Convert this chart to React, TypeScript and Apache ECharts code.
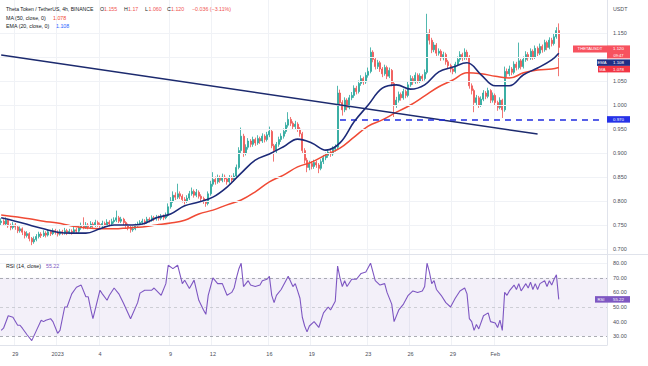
import React, { useEffect, useRef } from "react";
import * as echarts from "echarts";

// ---- data (4h candles, Dec 28 00:00 .. Feb 5 12:00) ----
const FIRST_OPEN = 0.755;
const closes = [
  0.758,0.752,0.760,0.748,0.745,0.750,
  0.746,0.738,0.742,0.735,0.728,0.732,
  0.722,0.715,0.720,0.726,0.731,0.728,
  0.733,0.729,0.736,0.732,0.738,0.735,
  0.731,0.736,0.733,0.738,0.734,0.737,
  0.735,0.740,0.737,0.744,0.748,0.745,
  0.750,0.746,0.752,0.749,0.755,0.751,
  0.748,0.753,0.750,0.756,0.752,0.757,
  0.760,0.765,0.758,0.762,0.755,0.750,
  0.745,0.740,0.742,0.748,0.752,0.755,
  0.758,0.756,0.762,0.760,0.765,0.763,
  0.766,0.764,0.768,0.765,0.770,0.788,
  0.800,0.812,0.808,0.815,0.810,0.803,
  0.800,0.806,0.815,0.820,0.812,0.818,
  0.810,0.805,0.800,0.795,0.815,0.835,
  0.845,0.840,0.848,0.843,0.850,0.846,
  0.840,0.848,0.844,0.852,0.870,0.905,
  0.935,0.900,0.912,0.925,0.918,0.928,
  0.921,0.930,0.925,0.935,0.928,0.938,
  0.945,0.915,0.905,0.918,0.928,0.935,
  0.945,0.958,0.970,0.962,0.955,0.960,
  0.950,0.940,0.905,0.885,0.870,0.878,
  0.872,0.880,0.875,0.868,0.882,0.890,
  0.895,0.902,0.898,0.908,0.912,1.025,
  1.005,0.990,1.010,0.995,1.015,1.020,
  1.035,1.028,1.045,1.055,1.048,1.062,
  1.070,1.110,1.095,1.080,1.088,1.075,
  1.065,1.078,1.060,1.072,1.045,1.000,
  1.010,1.022,1.015,1.028,1.020,1.042,
  1.055,1.048,1.062,1.050,1.060,1.055,
  1.068,1.150,1.135,1.115,1.125,1.108,
  1.112,1.098,1.105,1.090,1.082,1.075,
  1.070,1.085,1.095,1.105,1.098,1.110,
  1.100,1.040,1.030,1.005,1.015,1.000,
  1.012,1.025,1.018,1.030,1.010,1.020,
  1.005,0.995,1.010,0.990,1.070,1.065,
  1.075,1.068,1.085,1.078,1.092,1.080,
  1.095,1.105,1.098,1.112,1.100,1.118,
  1.108,1.122,1.115,1.130,1.120,1.135,
  1.128,1.142,1.155,1.120,
];
const highs = [
  0.764,0.762,0.766,0.763,0.753,0.756,
  0.754,0.749,0.747,0.745,0.738,0.737,
  0.735,0.725,0.726,0.731,0.736,0.735,
  0.739,0.737,0.741,0.740,0.743,0.742,
  0.739,0.741,0.740,0.744,0.742,0.742,
  0.741,0.746,0.744,0.750,0.755,0.766,
  0.756,0.754,0.758,0.756,0.761,0.759,
  0.755,0.759,0.757,0.762,0.760,0.763,
  0.766,0.780,0.769,0.767,0.765,0.758,
  0.753,0.749,0.747,0.753,0.757,0.760,
  0.763,0.762,0.767,0.766,0.770,0.769,
  0.771,0.770,0.773,0.772,0.776,0.795,
  0.808,0.820,0.818,0.836,0.820,0.814,
  0.808,0.812,0.821,0.828,0.824,0.825,
  0.822,0.814,0.809,0.804,0.820,0.842,
  0.860,0.851,0.855,0.853,0.857,0.855,
  0.850,0.854,0.853,0.858,0.876,0.912,
  0.953,0.940,0.918,0.931,0.929,0.934,
  0.932,0.937,0.934,0.941,0.939,0.944,
  0.955,0.948,0.919,0.923,0.934,0.941,
  0.951,0.964,0.985,0.975,0.966,0.967,
  0.964,0.954,0.944,0.910,0.890,0.884,
  0.883,0.886,0.884,0.879,0.887,0.896,
  0.901,0.908,0.906,0.914,0.918,1.040,
  1.032,1.010,1.016,1.014,1.021,1.027,
  1.041,1.040,1.051,1.062,1.059,1.068,
  1.078,1.120,1.114,1.099,1.094,1.092,
  1.079,1.084,1.082,1.078,1.075,1.049,
  1.017,1.028,1.026,1.034,1.032,1.048,
  1.062,1.060,1.068,1.066,1.066,1.064,
  1.074,1.190,1.158,1.140,1.131,1.129,
  1.118,1.116,1.111,1.109,1.094,1.086,
  1.079,1.090,1.101,1.112,1.109,1.118,
  1.115,1.104,1.045,1.034,1.021,1.019,
  1.018,1.031,1.029,1.036,1.033,1.026,
  1.024,1.009,1.016,1.013,1.080,1.076,
  1.082,1.079,1.091,1.090,1.130,1.096,
  1.101,1.112,1.110,1.118,1.116,1.124,
  1.122,1.128,1.126,1.136,1.134,1.141,
  1.140,1.148,1.162,1.170,
];
const lows = [
  0.750,0.748,0.749,0.744,0.739,0.741,
  0.740,0.733,0.734,0.729,0.722,0.724,
  0.716,0.708,0.711,0.716,0.722,0.723,
  0.725,0.724,0.726,0.727,0.729,0.730,
  0.726,0.728,0.729,0.730,0.729,0.731,
  0.730,0.732,0.733,0.734,0.740,0.741,
  0.742,0.741,0.743,0.744,0.746,0.746,
  0.743,0.745,0.745,0.747,0.747,0.749,
  0.753,0.756,0.754,0.754,0.750,0.744,
  0.739,0.734,0.736,0.739,0.745,0.749,
  0.751,0.751,0.753,0.755,0.757,0.758,
  0.759,0.759,0.760,0.760,0.762,0.767,
  0.784,0.796,0.802,0.804,0.804,0.797,
  0.793,0.796,0.802,0.811,0.807,0.808,
  0.805,0.799,0.794,0.788,0.791,0.811,
  0.830,0.834,0.836,0.838,0.839,0.840,
  0.834,0.836,0.839,0.840,0.848,0.866,
  0.900,0.892,0.895,0.907,0.912,0.913,
  0.915,0.917,0.919,0.921,0.922,0.924,
  0.933,0.910,0.882,0.900,0.913,0.923,
  0.930,0.940,0.953,0.956,0.949,0.950,
  0.944,0.934,0.898,0.878,0.860,0.864,
  0.866,0.867,0.869,0.858,0.864,0.877,
  0.885,0.890,0.892,0.894,0.903,0.908,
  0.998,0.978,0.985,0.989,0.991,1.010,
  1.015,1.022,1.024,1.040,1.042,1.044,
  1.057,1.066,1.089,1.074,1.075,1.069,
  1.058,1.061,1.054,1.056,1.039,0.975,
  0.994,1.005,1.009,1.011,1.014,1.016,
  1.038,1.042,1.044,1.045,1.046,1.049,
  1.051,1.064,1.126,1.108,1.110,1.102,
  1.103,1.092,1.093,1.084,1.076,1.068,
  1.064,1.066,1.081,1.090,1.092,1.094,
  1.094,1.034,1.022,0.985,1.000,0.994,
  0.996,1.008,1.012,1.014,1.004,1.005,
  0.999,0.988,0.991,0.973,0.986,1.058,
  1.060,1.062,1.064,1.072,1.074,1.074,
  1.076,1.090,1.092,1.094,1.094,1.096,
  1.102,1.104,1.109,1.111,1.114,1.116,
  1.122,1.124,1.138,1.060,
];

// indicator lines, read once per day (candle index -> value)
const lineIdx = [0,6,12,18,24,30,36,42,48,54,60,66,72,78,84,90,96,102,108,114,120,126,132,138,144,150,156,162,168,174,180,186,192,198,204,210,216,222,228,234,237];
const ema20 = [0.765,0.758,0.750,0.742,0.735,0.733,0.733,0.742,0.750,0.750,0.752,0.765,0.773,0.790,0.798,0.808,0.829,0.858,0.885,0.898,0.913,0.929,0.921,0.906,0.921,0.965,1.000,1.035,1.042,1.033,1.042,1.069,1.079,1.088,1.063,1.040,1.040,1.063,1.077,1.094,1.108];
const ma50 = [0.771,0.767,0.763,0.758,0.754,0.748,0.744,0.742,0.742,0.744,0.746,0.750,0.754,0.760,0.773,0.781,0.792,0.802,0.819,0.840,0.854,0.871,0.881,0.896,0.910,0.933,0.956,0.969,0.985,1.000,1.019,1.038,1.052,1.067,1.065,1.060,1.056,1.067,1.073,1.075,1.078];

const rsiIdx = [0,1,3,5,7,8,9,11,13,15,17,18,19,21,22,24,25,27,28,30,32,34,36,37,38,39,42,43,45,46,48,50,52,55,58,59,61,64,65,68,70,71,73,75,77,78,80,82,84,86,87,88,89,90,92,94,96,98,99,100,101,102,103,105,106,108,110,111,113,114,115,116,117,119,121,122,124,125,126,127,128,129,130,131,133,135,137,139,140,142,143,144,145,146,147,149,151,153,155,157,158,159,161,163,164,166,167,169,171,173,175,177,179,180,181,182,183,184,185,187,189,191,193,195,197,198,199,200,201,202,203,205,207,208,210,211,212,213,214,215,216,218,219,220,221,223,224,225,226,227,228,229,231,232,233,234,235,236,237];
const rsiVals = [34,35.5,44,43,37.5,37.5,35.5,31,27,34,41,40,41,42,40,32,34,50,50,59,63.5,65,57,57,49,42,61.5,59,54.6,58,63,59,52.6,42,53,59.5,61.5,61.5,63,58,66,78.6,76.3,78.6,66,68.3,62.6,68.4,54.6,48,45,58,64,70,66,66,58,60,63,70,76,80,64,68,65,64,65,68,69,71,58,53,58,62,68,71,64,66,61,56,43,37,33,37,40,36,46,50,48,54,78,70,64,68,64,69,69,73,74,80,74,68,65,66,60,52,40,48,52,58,61,60,61,64,80,74,66,68,62,58,53,50,56,61,63,59,42,40,34,38,35,44,46,40,39,36,41,34,60,58,61,65,62,66,61,66,63,67,62,66,62,66,68,64,68,65,69,72,55.22];

const priceGridTicks = [0.7,0.75,0.8,0.85,0.9,0.95,1.0,1.05,1.1,1.15];
// 1.100 sits under the price tags in the reference, so it has no visible label
const priceLabelTicks = [0.7,0.75,0.8,0.85,0.9,0.95,1.0,1.05,1.15];
const rsiTicks = [30,40,50,60,70,80];
const dateIdx = [6,24,42,72,90,114,132,156,174,192,210];
const dateText = ["29","2023","4","9","12","16","19","23","26","29","Feb"];

const trendStart = [0, 1.104];
const trendEnd = [228, 0.9396];
const supportLevel = 0.97;
const supportFrom = 144;
const supportTo = 255;

const lastClose = 1.12;
const lastEma = 1.108;
const lastMa = 1.078;
const lastRsi = 55.22;

const FONT = "'Liberation Sans', Arial, sans-serif";
const SLOTS = 258;

export default function App() {
  const ref = useRef<HTMLDivElement>(null);
  useEffect(() => {
    document.body.style.margin = "0";
    const chart = echarts.init(ref.current!, null, { renderer: "svg" });
    const opens = closes.map((c, i) => (i === 0 ? FIRST_OPEN : closes[i - 1]));
    const candles = closes.map((c, i) => [opens[i], c, lows[i], highs[i]]);
    const cats = Array.from({ length: SLOTS }, (_, i) => String(i));
    const isDate = (i: number) => dateIdx.indexOf(i) >= 0;
    const vGrid = { show: true, interval: (i: number) => isDate(i), lineStyle: { color: "#f0f2f6", width: 1 } };

    chart.setOption({
      animation: false,
      textStyle: { fontFamily: FONT },
      grid: [
        { left: 0, right: 41, top: 0, height: 254 },
        { left: 0, right: 41, top: 255, height: 90 },
      ],
      xAxis: [
        { type: "category", gridIndex: 0, data: cats, boundaryGap: true, axisLine: { show: false }, axisTick: { show: false }, axisLabel: { show: false }, splitLine: vGrid },
        {
          type: "category", gridIndex: 1, data: cats, boundaryGap: true,
          axisLine: { show: true, lineStyle: { color: "#e0e3eb" } },
          axisTick: { show: false },
          splitLine: vGrid,
          axisLabel: {
            interval: (i: number) => isDate(i),
            formatter: (_v: string, i: number) => dateText[dateIdx.indexOf(i)] ?? "",
            fontSize: 5.5, color: "#4a4d57", margin: 6, fontFamily: FONT,
          },
        },
      ],
      yAxis: [
        {
          type: "value", gridIndex: 0, position: "right", min: 1.21875 - 254 / 480, max: 1.21875, scale: true,
          axisLine: { show: true, lineStyle: { color: "#e0e3eb" } }, axisTick: { show: false }, splitLine: { show: false },
          axisLabel: { customValues: priceLabelTicks, formatter: (v: number) => v.toFixed(3), fontSize: 5.5, color: "#4a4d57", margin: 6, fontFamily: FONT },
        },
        {
          type: "value", gridIndex: 1, position: "right", min: 24, max: 85.6,
          axisLine: { show: true, lineStyle: { color: "#e0e3eb" } }, axisTick: { show: false }, splitLine: { show: false },
          axisLabel: { customValues: rsiTicks, formatter: (v: number) => v.toFixed(2), fontSize: 5.5, color: "#4a4d57", margin: 6, fontFamily: FONT },
        },
      ],
      series: [
        {
          type: "line", xAxisIndex: 0, yAxisIndex: 0, data: [], silent: true, z: 0,
          markLine: { silent: true, symbol: "none", label: { show: false }, lineStyle: { color: "#f0f2f6", width: 1, type: "solid" }, data: priceGridTicks.map((v) => ({ yAxis: v })) },
        },
        {
          type: "candlestick", xAxisIndex: 0, yAxisIndex: 0, data: candles, barWidth: 1.5, z: 3,
          itemStyle: { color: "#26a69a", color0: "#ef5350", borderColor: "#26a69a", borderColor0: "#ef5350", borderWidth: 0.8 },
          markLine: {
            silent: true, symbol: "none", label: { show: false },
            data: [
              [{ coord: trendStart, lineStyle: { color: "#1c2a6e", width: 1.5, type: "solid" } }, { coord: trendEnd }],
              [{ coord: [supportFrom, supportLevel], lineStyle: { color: "#1f2be0", width: 1.5, type: [6, 5] } }, { coord: [supportTo, supportLevel] }],
            ],
          },
        },
        {
          type: "line", xAxisIndex: 0, yAxisIndex: 0, data: lineIdx.map((ix, k) => [ix, ma50[k]]), smooth: 0.4, showSymbol: false, silent: true, z: 4,
          lineStyle: { color: "#f04a35", width: 1.5 },
        },
        {
          type: "line", xAxisIndex: 0, yAxisIndex: 0, data: lineIdx.map((ix, k) => [ix, ema20[k]]), smooth: 0.4, showSymbol: false, silent: true, z: 5,
          lineStyle: { color: "#1c2a78", width: 1.6 },
        },
        {
          type: "line", xAxisIndex: 1, yAxisIndex: 1, data: rsiIdx.map((ix, k) => [ix, rsiVals[k]]), showSymbol: false, silent: true, z: 5,
          lineStyle: { color: "#7e57c2", width: 1.1 },
          markArea: { silent: true, itemStyle: { color: "rgba(126,87,194,0.09)" }, data: [[{ yAxis: 30 }, { yAxis: 70 }]] },
          markLine: {
            silent: true, symbol: "none", label: { show: false },
            data: [
              { yAxis: 80, lineStyle: { color: "#f0f2f6", type: "solid", width: 1 } },
              { yAxis: 70, lineStyle: { color: "#9598a1", type: [3, 3], width: 0.8 } },
              { yAxis: 50, lineStyle: { color: "#c3c5cc", type: [3, 3], width: 0.8 } },
              { yAxis: 30, lineStyle: { color: "#9598a1", type: [3, 3], width: 0.8 } },
            ],
          },
        },
      ],
    });

    const py = (v: number) => chart.convertToPixel({ yAxisIndex: 0 }, v) as number;
    const ry = (v: number) => chart.convertToPixel({ yAxisIndex: 1 }, v) as number;
    const g: any[] = [];
    const txt = (x: number, y: number, text: string, fill: string, size = 5.3, align = "left") =>
      g.push({ type: "text", z: 100, style: { x, y, text, fill, fontSize: size, fontFamily: FONT, align, verticalAlign: "middle" } });
    const box = (x: number, y: number, w: number, h: number, fill: string) =>
      g.push({ type: "rect", z: 99, shape: { x, y, width: w, height: h }, style: { fill } });

    // pane separator
    g.push({ type: "line", z: 98, shape: { x1: 0, y1: 254.5, x2: 648, y2: 254.5 }, style: { stroke: "#e0e3eb", lineWidth: 1 } });

    // header legend
    txt(6, 9, "Theta Token / TetherUS, 4h, BINANCE", "#131722", 5.1);
    txt(100, 9, "O", "#131722"); txt(104, 9, "1.155", "#ef5350");
    txt(124, 9, "H", "#131722"); txt(128, 9, "1.17", "#ef5350");
    txt(145, 9, "L", "#131722"); txt(148.5, 9, "1.060", "#ef5350");
    txt(167, 9, "C", "#131722"); txt(171, 9, "1.120", "#ef5350");
    txt(192, 9, "\u22120.036 (\u22123.11%)", "#ef5350");
    txt(6, 17.5, "MA (50, close, 0)", "#131722"); txt(53, 17.5, "1.078", "#f04a35");
    txt(6, 26, "EMA (20, close, 0)", "#131722"); txt(56, 26, "1.108", "#2962ff");
    txt(6, 266, "RSI (14, close)", "#131722"); txt(46, 266, "55.22", "#7e57c2");
    txt(613, 9, "USDT", "#4a4d57");

    // right-side price tags
    const redTop = py(lastClose) - 2;
    box(573, redTop, 34, 7, "#f7525f"); txt(590, redTop + 3.5, "THETAUSDT", "#fff", 4.2, "center");
    box(607, redTop, 23, 13, "#f7525f"); txt(618.5, redTop + 3.4, "1.120", "#fff", 4.4, "center"); txt(618.5, redTop + 9.6, "09:47", "#fff", 4.0, "center");
    const emaTop = Math.max(py(lastEma) - 3.25, redTop + 14);
    box(597, emaTop, 10, 6.5, "#1f2f86"); txt(602, emaTop + 3.3, "EMA", "#fff", 4.2, "center");
    box(607, emaTop, 23, 6.5, "#1f2f86"); txt(618.5, emaTop + 3.3, "1.108", "#fff", 4.4, "center");
    const maTop = Math.max(py(lastMa) - 3.25, emaTop + 6.5);
    box(598, maTop, 9, 6.5, "#f23645"); txt(602.5, maTop + 3.3, "MA", "#fff", 4.2, "center");
    box(607, maTop, 23, 6.5, "#f23645"); txt(618.5, maTop + 3.3, "1.078", "#fff", 4.4, "center");
    const supTop = py(supportLevel) - 3.25;
    box(607, supTop, 23, 6.5, "#2632e8"); txt(618.5, supTop + 3.3, "0.970", "#fff", 4.4, "center");
    const rsiTop = ry(lastRsi) - 3.25;
    box(595, rsiTop, 12, 6.5, "#7e57c2"); txt(601, rsiTop + 3.3, "RSI", "#fff", 4.2, "center");
    box(607, rsiTop, 23, 6.5, "#7e57c2"); txt(618.5, rsiTop + 3.3, "55.22", "#fff", 4.4, "center");

    chart.setOption({ graphic: g });
    return () => chart.dispose();
  }, []);
  return <div ref={ref} style={{ width: 648, height: 366 }} />;
}
